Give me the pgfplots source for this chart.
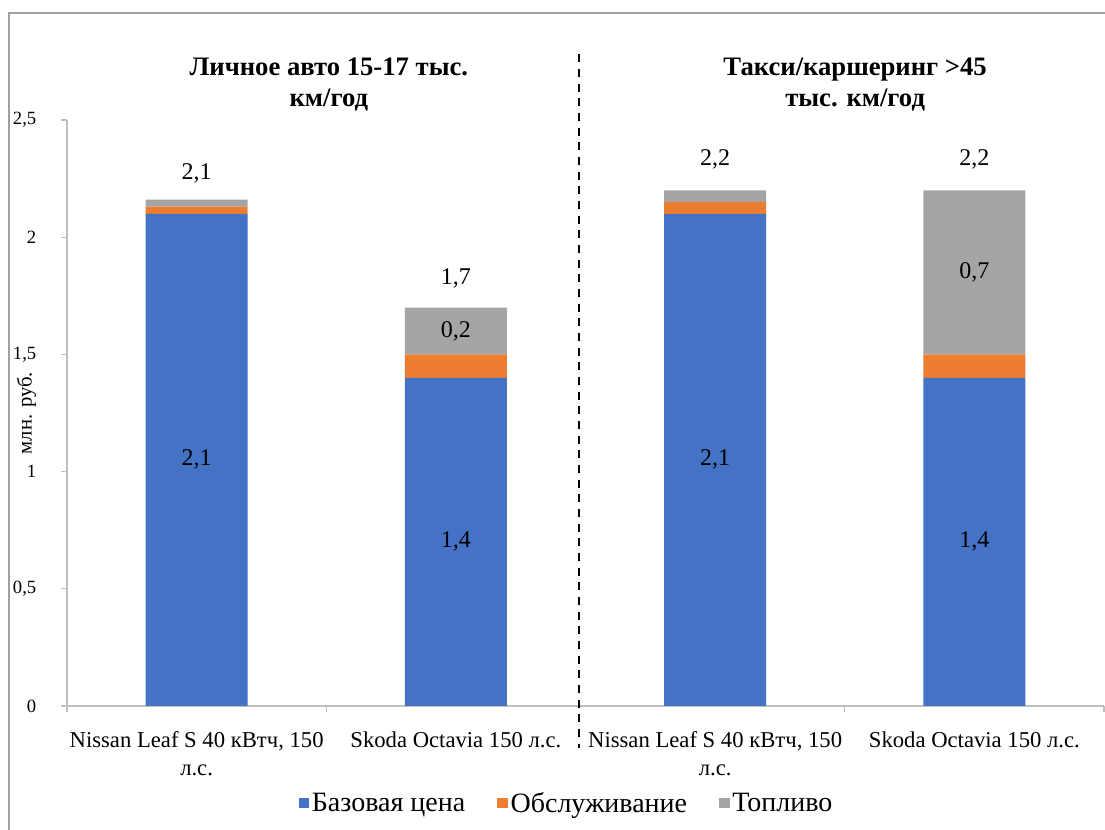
\documentclass[border=0pt]{standalone}
\usepackage{fontspec}
\setmainfont{Liberation Serif}
\usepackage{pgfplots}
\pgfplotsset{compat=1.18}
\definecolor{cBase}{HTML}{4472C4}
\definecolor{cServ}{HTML}{ED7D31}
\definecolor{cFuel}{HTML}{A5A5A5}
\definecolor{axgray}{HTML}{BFBFBF}
\definecolor{framegray}{HTML}{A0A0A0}
\begin{document}
\begin{tikzpicture}
\path[use as bounding box] (0pt,0pt) rectangle (828.75pt,622.5pt);
\draw[framegray, line width=1.2pt] (6.75pt,-20pt) -- (6.75pt,612.75pt) -- (850pt,612.75pt);
\begin{axis}[
  at={(50.25pt,93pt)}, anchor=south west,
  scale only axis, width=777.75pt, height=439.5pt,
  ybar stacked, bar width=76.5pt,
  xmin=-0.5, xmax=3.5, ymin=0, ymax=2.5,
  clip=false,
  axis x line*=bottom, axis y line*=left,
  axis line style={draw=axgray, line width=0.9pt},
  tick align=outside, major tick length=4.5pt,
  tick style={draw=axgray, line width=0.9pt},
  ytick={0,0.5,1,1.5,2,2.5},
  yticklabels={0,{0,5},1,{1,5},2,{2,5}},
  yticklabel style={font=\fontsize{14}{16}\selectfont, xshift=-15pt},
  xtick={0,1,2,3},
  xtick style={draw=none},
  xticklabels={{Nissan Leaf S 40 кВтч, 150\\л.с.},{Skoda Octavia 150 л.с.},{Nissan Leaf S 40 кВтч, 150\\л.с.},{Skoda Octavia 150 л.с.}},
  xticklabel style={align=center, font=\fontsize{17}{21}\selectfont, yshift=-11pt},
  ylabel={млн. руб.},
  ylabel style={at={(axis description cs:-0.039,0.5)}, anchor=center, font=\fontsize{15.5}{17}\selectfont},
  legend style={at={(0.482,-0.1655)}, anchor=center, legend columns=3, draw=none,
    font=\fontsize{21}{23}\selectfont,
    /tikz/every even column/.append style={column sep=22pt}},
  legend image code/.code={\fill[#1] (0pt,-4pt) rectangle (8pt,4pt);},
  after end axis/.code={
    \node[font=\fontsize{18}{20}\selectfont] at (axis cs:0,1.05) {2,1};
    \node[font=\fontsize{18}{20}\selectfont] at (axis cs:1,0.70) {1,4};
    \node[font=\fontsize{18}{20}\selectfont] at (axis cs:2,1.05) {2,1};
    \node[font=\fontsize{18}{20}\selectfont] at (axis cs:3,0.70) {1,4};
    \node[font=\fontsize{18}{20}\selectfont] at (axis cs:1,1.60) {0,2};
    \node[font=\fontsize{18}{20}\selectfont] at (axis cs:3,1.85) {0,7};
  },
]
\addplot[fill=cBase, draw=none] coordinates {(0,2.10) (1,1.40) (2,2.10) (3,1.40)};
\addplot[fill=cServ, draw=none] coordinates {(0,0.03) (1,0.10) (2,0.05) (3,0.10)};
\addplot[fill=cFuel, draw=none] coordinates {(0,0.03) (1,0.20) (2,0.05) (3,0.70)};
\legend{Базовая цена, Обслуживание, Топливо}
\node[font=\fontsize{18}{20}\selectfont] at (axis cs:0,2.274) {2,1};
\node[font=\fontsize{18}{20}\selectfont] at (axis cs:1,1.826) {1,7};
\node[font=\fontsize{18}{20}\selectfont] at (axis cs:2,2.33) {2,2};
\node[font=\fontsize{18}{20}\selectfont] at (axis cs:3,2.33) {2,2};
\node[align=center, font=\bfseries\fontsize{20}{23}\selectfont] at (axis cs:0.51,2.65) {Личное авто 15-17 тыс.\\км/год};
\node[align=center, font=\bfseries\fontsize{20}{23}\selectfont] at (axis cs:2.54,2.65) {Такси/каршеринг >45\\тыс. км/год};
\draw[axgray, line width=0.9pt] (axis cs:-0.5,0) -- ++(0pt,-4.5pt);
\draw[axgray, line width=0.9pt] (axis cs:0.5,0) -- ++(0pt,-4.5pt);
\draw[axgray, line width=0.9pt] (axis cs:2.5,0) -- ++(0pt,-4.5pt);
\draw[axgray, line width=0.9pt] (axis cs:3.5,0) -- ++(0pt,-4.5pt);
\draw[black, line width=1.5pt, dash pattern=on 6pt off 5pt] (axis cs:1.475,2.78) -- (axis cs:1.475,-0.18);
\end{axis}
\end{tikzpicture}
\end{document}
